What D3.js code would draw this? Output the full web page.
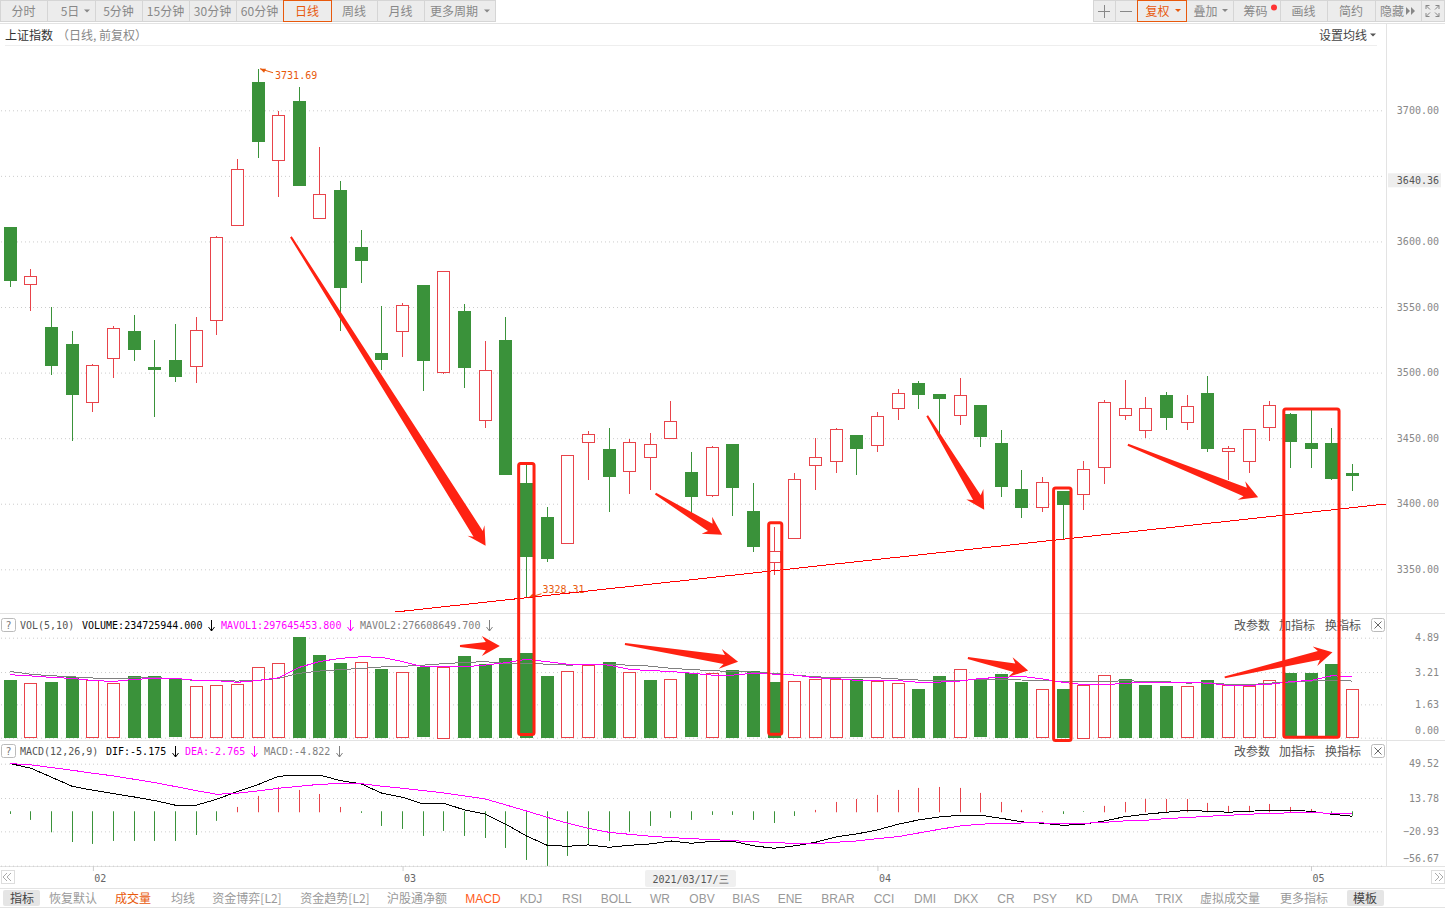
<!DOCTYPE html>
<html>
<head>
<meta charset="utf-8">
<title>上证指数</title>
<script src="https://cdn.jsdelivr.net/npm/d3@7"></script>
<style>
  html, body { margin: 0; padding: 0; background: #fff; overflow: hidden; }
  svg { display: block; }
  text { font-family: "Noto Sans CJK SC", sans-serif; font-size: 12px; }
  .mono { font-family: "DejaVu Sans Mono", "Liberation Mono", monospace; font-size: 10px; }
  .latin { font-family: "Liberation Sans", sans-serif; font-size: 12px; }
  .axis .domain { display: none; }
  .grid .tick line { stroke: #ccc; stroke-dasharray: 1,3; }
  .grid .tick text { fill: #888; font-family: "DejaVu Sans Mono", monospace; font-size: 10px; text-anchor: end; }
</style>
</head>
<body>
<svg id="chart" width="1445" height="909"></svg>
<script>
// candles
const opens = [3611.1,3567.1,3534.9,3521.9,3477.5,3511,3531.8,3504.4,3509.7,3504.9,3540,3612.3,3721.5,3661.9,3707,3617.7,3639.3,3595.8,3515.1,3531.6,3566.9,3500.3,3547.1,3463.8,3525,3416,3390.1,3370.1,3447,3441.9,3424.6,3435.6,3450.1,3424.4,3406.6,3445.7,3394.7,3355.6,3373.9,3429.5,3432.5,3452.6,3444.7,3472.9,3492.2,3483.8,3467.6,3475.4,3446.5,3411.4,3397.5,3409.9,3407.4,3428,3467.6,3456.2,3483,3462.2,3484.6,3440.2,3432.5,3458.4,3468.6,3446.5,3446.5,3423.6]
const closes = [3570.2,3573.5,3505.4,3483.3,3505.7,3533.9,3517.6,3502.1,3497,3532.3,3603.2,3655,3676,3696.2,3642.5,3636,3564.8,3585.4,3510,3551.4,3509.2,3577.3,3503.9,3501.9,3422.3,3359.9,3358.3,3437.1,3453.1,3420.8,3447,3445.5,3463,3405.6,3443.2,3412.4,3367.5,3364,3418.8,3435.6,3456.9,3442.1,3466.8,3484.3,3483.3,3480.2,3482.8,3451.3,3413.2,3397.2,3416.5,3399.5,3426.4,3477.5,3472.9,3472.9,3465.8,3474.4,3442.1,3442.4,3456.9,3475.2,3447.5,3442.1,3419.3,3421.6]
const highs = [3611.1,3579.1,3550.1,3531.8,3506.7,3535.6,3544,3525,3537.2,3542.5,3604.2,3662.9,3731.69,3699.5,3717.7,3672,3646.1,3608.8,3550.9,3553.1,3566.9,3577.3,3552.4,3524.2,3542.5,3429.7,3397.7,3437.1,3455.1,3457.9,3449.5,3453.9,3478.5,3439.6,3444.2,3445.7,3416,3382.5,3423.6,3450.3,3457.9,3452.6,3470.1,3487.6,3493.7,3483.8,3496,3475.4,3456.4,3425.9,3420.6,3409.9,3432.8,3479.2,3494.5,3481.5,3485.3,3483,3497.5,3444.2,3456.9,3478.5,3469.3,3471.6,3457.9,3430.5]
const lows = [3565.6,3547.3,3497.8,3447.5,3470.3,3496.2,3509.2,3466.5,3493.2,3492.4,3529,3612.3,3663.9,3634.2,3642.5,3617.7,3532,3568.6,3501.6,3512.2,3485.6,3499.3,3487.9,3457.4,3421.6,3328.31,3355.3,3370.1,3417.8,3393.4,3407.1,3410.7,3450.1,3393.1,3404.8,3390.3,3362.9,3345.4,3373.9,3410.1,3423.8,3421.6,3439.1,3463.5,3472.6,3452.6,3459.7,3442.9,3404.8,3388.8,3393.4,3372.6,3394.9,3414.7,3464.2,3450.5,3456.6,3456.6,3439.1,3417.8,3423.8,3448.2,3427.4,3427.4,3417.8,3409.4]

// volume in 1e8, 1 = up day (red), 0 = down day (green)
const volumes = [2.82,2.66,2.72,2.98,2.80,2.66,3.02,3.02,2.90,2.51,2.56,2.61,3.44,3.63,4.92,4.04,3.65,3.68,3.36,3.19,3.44,3.47,3.99,3.60,3.90,4.14,3.02,3.24,3.54,3.72,3.19,2.82,2.85,3.15,3.15,3.31,3.24,2.72,2.75,2.85,2.85,2.85,2.75,2.66,2.38,3.02,3.34,2.85,3.11,2.72,2.36,2.38,2.59,3.05,2.87,2.58,2.53,2.51,2.82,2.56,2.51,2.80,3.16,3.16,3.60,2.36]
const volumeUp = [0,1,0,0,1,1,0,0,0,1,1,1,1,1,0,0,0,1,0,1,0,1,0,0,0,0,0,1,1,0,1,0,1,0,1,0,0,0,1,1,1,0,1,1,0,0,1,0,0,0,1,0,1,1,0,0,0,1,0,1,1,1,0,0,0,1]
const mavol1 = [3.08,3.02,2.95,2.90,2.80,2.75,2.85,2.90,2.90,2.80,2.79,2.71,2.80,2.93,3.44,3.73,3.88,3.96,3.93,3.72,3.47,3.46,3.47,3.55,3.67,3.83,3.72,3.59,3.59,3.55,3.34,3.28,3.24,3.15,3.06,3.06,3.15,3.11,3.06,2.93,2.89,2.80,2.80,2.79,2.71,2.72,2.77,2.90,2.95,3.00,2.87,2.71,2.59,2.59,2.66,2.71,2.71,2.69,2.67,2.56,2.56,2.61,2.74,2.80,3.03,2.98]
const mavol2 = [3.24,3.10,3.03,2.98,2.92,2.89,2.93,2.93,2.90,2.79,2.79,2.77,2.80,2.90,3.15,3.26,3.33,3.39,3.46,3.49,3.55,3.62,3.68,3.72,3.63,3.62,3.60,3.55,3.57,3.57,3.55,3.50,3.39,3.33,3.28,3.23,3.21,3.15,3.06,2.98,2.93,2.93,2.93,2.87,2.82,2.79,2.79,2.87,2.87,2.82,2.80,2.75,2.75,2.74,2.79,2.75,2.74,2.67,2.69,2.61,2.59,2.67,2.71,2.77,2.82,2.77]

// MACD pane
const dif = [49.6,44.8,35.4,26,21.9,18.4,14.9,11.1,6.3,6.3,12.5,20.5,27.8,36.5,37.5,37.5,31.9,28.5,18.8,14.6,7.6,8.3,1.4,-2.8,-13.5,-25.7,-35.4,-36.5,-35,-37.5,-35.4,-34,-30.9,-33.3,-31.3,-31.3,-36,-38.5,-36,-32.3,-26.7,-23.6,-19.4,-13.5,-9,-5.9,-4.2,-4.2,-7.3,-11,-12.5,-14.6,-13.5,-10,-5.6,-3.1,-1,1,0,-1,0,1,1,0,-3.1,-5.18]
const dea = [49.6,48.3,45.5,42.7,39.6,36.8,33.3,29.9,25.7,21.5,17.7,18.8,21.2,24,26,28.1,28.8,28.8,26,24,21.5,19.1,16,12.8,6.6,0.3,-6.3,-12.5,-17.7,-21.9,-24,-26,-27.4,-28.5,-29.5,-30.6,-31.9,-32.3,-33.7,-33.7,-32.3,-30.9,-28.5,-26.4,-22.6,-18.8,-15.3,-13.5,-12.5,-12.2,-12.2,-12.5,-12.5,-11.5,-10,-9.4,-7.6,-6.6,-5.2,-4.2,-3.1,-2.1,-1.7,-1.4,-2.1,-2.77]
const macd = [-2.8,-9,-21.9,-32,-34,-30.9,-30.9,-30.9,-30.9,-24.7,-10,4.5,16,25.3,22.2,18,4.5,-1.7,-15.3,-18.4,-25.7,-20.5,-25.7,-27.8,-38.2,-50.7,-56.9,-46.5,-35,-30.9,-21.5,-15.3,-6.9,-9,-3.8,-3.8,-9,-12.2,-4.9,1.4,9.7,12.8,17,22.2,24.3,25.3,24.3,19.1,9.7,1.4,0,-2.8,-0.7,5.6,9.7,12.8,12.8,12.8,8.7,5.6,5.6,7.6,4.5,2.4,-1.7,-4.82]

// axis ticks
const priceTicks = [3700,3650,3600,3550,3500,3450,3400,3350]
const volumeTicks = [4.89,3.21,1.63,0]
const macdTicks = [49.52,13.78,-20.93,-56.67]
const monthIndex = [4,19,42,63]
const monthLabels = ["02","03","04","05"]

// toolbar and tabs
const leftTabs = [["分时",0,47],["5日",47,95],["5分钟",95,142],["15分钟",142,189],["30分钟",189,236],["60分钟",236,283],["日线",283,331],["周线",331,377],["月线",377,424],["更多周期",424,495]]
const rightTabs = [["",1093,1115],["",1115,1137],["复权",1137,1186],["叠加",1186,1233],["筹码",1233,1280],["画线",1280,1327],["简约",1327,1375],["隐藏",1375,1421],["",1421,1444]]
const bottomTabs = [["恢复默认",73],["成交量",133],["均线",183],["资金博弈[L2]",247],["资金趋势[L2]",335],["沪股通净额",417],["MACD",483],["KDJ",531],["RSI",572],["BOLL",616],["WR",660],["OBV",702],["BIAS",746],["ENE",790],["BRAR",838],["CCI",884],["DMI",925],["DKX",966],["CR",1006],["PSY",1045],["KD",1084],["DMA",1125],["TRIX",1169],["虚拟成交量",1230],["更多指标",1304]]

// hand drawn marks on the screenshot, in [bar index, value]
const trendLine = [[18.63,3317.4],[66.62,3399.8]]
const priceArrows = [
  [[13.59,3603.5],[23.02,3368]],
  [[31.25,3407.7],[34.48,3376.4]],
  [[44.41,3467.1],[47.17,3395.5]],
  [[54.13,3445],[60.44,3405]]
]
const volumeArrows = [
  [[21.78,4.48],[23.71,4.48]],
  [[29.77,4.58],[35.25,3.72]],
  [[46.38,3.90],[49.3,3.28]],
  [[58.82,2.95],[64.04,4.18]]
]
const boxes = [
  [24.55,25.44,3431.8,0.08],
  [36.66,37.44,3386.6,0.10],
  [50.46,51.45,3413.2,-0.21],
  [61.61,64.43,3473.4,-0.05]
]

const GREEN = "#3a923a", RED = "#e8434a", ORANGE = "#e8590c", ARROW = "#ff2212"
const MID = "0.4em"
const bars = d3.range(closes.length)

const svg = d3.select("#chart")
const x = d3.scaleLinear().domain([0, 65]).range([10.3, 1352.3])
const yPrice = d3.scaleLinear().domain([3350, 3700]).range([569.3, 110.3])
const yVol = d3.scaleLinear().domain([0, 4.89]).range([737.7, 637.7])
const yMacd = d3.scaleLinear().domain([-56.67, 49.52]).range([865.7, 763.7])
const px = i => Math.floor(x(i)) + 0.5

// --- frame ---
const frame = svg.append("g").attr("stroke", "#e3e3e3")
;[23, 613, 740, 866, 888, 907].forEach(y => {
  frame.append("line").attr("x1", 0).attr("x2", 1445).attr("y1", y + 0.5).attr("y2", y + 0.5)
})
frame.append("line").attr("x1", 5).attr("x2", 1377).attr("y1", 45.5).attr("y2", 45.5).attr("stroke", "#eee")
frame.append("line").attr("x1", 1386.5).attr("x2", 1386.5).attr("y1", 23).attr("y2", 866)

function grid(scale, ticks, fmt) {
  const g = svg.append("g").attr("class", "axis grid").attr("transform", "translate(1382,0)")
    .call(d3.axisRight(scale).tickValues(ticks).tickFormat(fmt).tickSize(-1381))
  g.selectAll(".tick text").attr("x", 57)
  return g
}
// 3650 is hidden behind the current price label in the reference
grid(yPrice, priceTicks, d => d === 3650 ? "" : d3.format(".2f")(d))
grid(yVol, volumeTicks, d3.format(".2f"))
  .selectAll(".tick").filter(d => d === 0).select("text").attr("dy", "-0.4em")
grid(yMacd, macdTicks, d3.format(".2f"))
  .selectAll(".tick").filter(d => d === -56.67).select("text").attr("dy", "-0.4em")

// last price label
svg.append("rect").attr("x", 1388).attr("y", yPrice(3647) - 6.5).attr("width", 53).attr("height", 14).attr("fill", "#eee")
svg.append("text").attr("class", "mono").attr("x", 1439).attr("y", yPrice(3647)).attr("dy", "0.45em")
  .attr("text-anchor", "end").attr("fill", "#555").text("3640.36")

// --- candles ---
const candle = svg.append("g").selectAll("g").data(bars).join("g")
  .attr("stroke", i => closes[i] >= opens[i] ? RED : GREEN)
candle.append("line")
  .attr("x1", px).attr("x2", px)
  .attr("y1", i => Math.round(yPrice(highs[i])))
  .attr("y2", i => Math.round(yPrice(lows[i])))
candle.append("rect")
  .attr("shape-rendering", "crispEdges")
  .attr("x", i => closes[i] >= opens[i] ? px(i) - 6 : px(i) - 6.5)
  .attr("width", i => closes[i] >= opens[i] ? 12 : 13)
  .attr("y", i => Math.round(yPrice(Math.max(opens[i], closes[i]))) + (closes[i] >= opens[i] ? 0.5 : 0))
  .attr("height", i => Math.max(2, Math.round(Math.abs(yPrice(opens[i]) - yPrice(closes[i])))))
  .attr("fill", i => closes[i] >= opens[i] ? "#fff" : GREEN)
  .attr("stroke", i => closes[i] >= opens[i] ? RED : "none")

// high / low flags
const hiX = x(12), hiY = yPrice(3731.69)
svg.append("path").attr("fill", "none").attr("stroke", ORANGE)
  .attr("d", `M${hiX + 2},${hiY} l13,4`)
svg.append("path").attr("fill", ORANGE).attr("d", `M${hiX + 2},${hiY} l6,0 l-2,4 z`)
svg.append("text").attr("class", "mono").attr("x", hiX + 17).attr("y", hiY + 6).attr("dy", "0.45em")
  .attr("fill", ORANGE).text("3731.69")
const loX = x(25), loY = yPrice(3328.31)
svg.append("path").attr("fill", "none").attr("stroke", ORANGE).attr("d", `M${loX + 2},${loY} l13,-4`)
svg.append("path").attr("fill", ORANGE).attr("d", `M${loX + 2},${loY} l6,0 l-2,-4 z`)
svg.append("text").attr("class", "mono").attr("x", loX + 16).attr("y", loY - 8).attr("dy", "0.35em")
  .attr("fill", ORANGE).text("3328.31")

// --- volume ---
svg.append("g").selectAll("rect").data(bars).join("rect")
  .attr("shape-rendering", "crispEdges")
  .attr("x", i => volumeUp[i] ? px(i) - 6 : px(i) - 6.5)
  .attr("width", i => volumeUp[i] ? 12 : 13)
  .attr("y", i => Math.round(yVol(volumes[i])) + (volumeUp[i] ? 0.5 : 0))
  .attr("height", i => Math.round(yVol(0) - yVol(volumes[i])))
  .attr("fill", i => volumeUp[i] ? "#fff" : GREEN)
  .attr("stroke", i => volumeUp[i] ? RED : "none")

function seriesLine(values, scale, color) {
  svg.append("path").datum(bars)
    .attr("fill", "none").attr("stroke", color).attr("shape-rendering", "crispEdges")
    .attr("d", d3.line().x(i => x(i)).y(i => scale(values[i])))
}
seriesLine(mavol2, yVol, "#808080")
seriesLine(mavol1, yVol, "#ff00ff")

// --- macd ---
svg.append("g").selectAll("line").data(bars).join("line")
  .attr("x1", px).attr("x2", px)
  .attr("y1", i => yMacd(0) + (macd[i] >= 0 ? 1 : 0))
  .attr("y2", i => yMacd(macd[i]))
  .attr("stroke", i => macd[i] >= 0 ? RED : GREEN)
seriesLine(dif, yMacd, "#000")
seriesLine(dea, yMacd, "#ff00ff")

// --- month axis ---
const monthAxis = svg.append("g").attr("class", "axis").attr("transform", "translate(0,866)")
  .call(d3.axisBottom(x).tickValues(monthIndex).tickSize(5)
    .tickFormat((d, i) => monthLabels[i]))
monthAxis.selectAll(".tick line").attr("stroke", "#ccc")
monthAxis.selectAll(".tick text").attr("class", "mono").attr("x", 7).attr("y", 8.5).attr("dy", "0.71em").attr("fill", "#666")
  .style("font-size", "10px")

svg.append("rect").attr("x", 645).attr("y", 870).attr("width", 91).attr("height", 17).attr("rx", 2).attr("fill", "#f0f0f0")
svg.append("text").attr("class", "mono").attr("x", 690.5).attr("y", 879).attr("dy", MID).attr("text-anchor", "middle")
  .attr("fill", "#555").text("2021/03/17/三")

// --- scroll buttons ---
;[[1, 1], [1431, -1]].forEach(([left, dir]) => {
  svg.append("rect").attr("x", left + 0.5).attr("y", 870.5).attr("width", 13).attr("height", 13).attr("fill", "#fff").attr("stroke", "#ddd")
  const cx = left + 7
  svg.append("path").attr("fill", "none").attr("stroke", "#aaa")
    .attr("d", `M${cx - dir},873 l${-4 * dir},4 l${4 * dir},4 M${cx + 3 * dir},873 l${-4 * dir},4 l${4 * dir},4`)
})

// --- top toolbar ---
function toolbar(items) {
  const g = svg.append("g").selectAll("g").data(items).join("g")
  g.append("rect").attr("x", d => d[1] + 0.5).attr("y", 0.5).attr("width", d => d[2] - d[1]).attr("height", 21)
    .attr("fill", "#ececec").attr("stroke", "#d5d5d5")
  return g
}
const caret = (cx, cy, color) => svg.append("path").attr("fill", color)
  .attr("d", `M${cx - 3},${cy - 1.5} h6 l-3,3 z`)

toolbar(leftTabs).append("text").attr("y", 11).attr("dy", MID).attr("text-anchor", "middle")
  .attr("x", d => d[0] === "5日" ? (d[1] + d[2]) / 2 - 1 : d[0] === "更多周期" ? (d[1] + d[2]) / 2 - 5.5 : (d[1] + d[2]) / 2)
  .attr("fill", d => d[0] === "日线" ? ORANGE : "#888").text(d => d[0])
toolbar(rightTabs).append("text").attr("y", 11).attr("dy", MID).attr("text-anchor", "middle")
  .attr("x", d => d[0] === "隐藏" ? d[1] + 17 : d[0] === "复权" || d[0] === "叠加" ? (d[1] + d[2]) / 2 - 4 : d[0] === "筹码" ? (d[1] + d[2]) / 2 - 1 : (d[1] + d[2]) / 2)
  .attr("fill", d => d[0] === "复权" ? ORANGE : "#888").text(d => d[0])

// active tabs get an orange frame
;[[283, 331], [1137, 1186]].forEach(([a, b]) => {
  svg.append("rect").attr("x", a + 0.5).attr("y", 0.5).attr("width", b - a).attr("height", 21)
    .attr("fill", "none").attr("stroke", ORANGE)
})
caret(87, 11, "#888"); caret(487, 11, "#888")
caret(1178, 10.5, ORANGE); caret(1225, 10.5, "#888")
svg.append("circle").attr("cx", 1274).attr("cy", 7.5).attr("r", 3).attr("fill", "#f33")
svg.append("path").attr("stroke", "#888").attr("fill", "none")
  .attr("d", "M1098,11.5 h12 M1104.5,5 v13 M1120,11.5 h12")
svg.append("path").attr("fill", "#888").attr("d", "M1406,7 l4,4 l-4,4 z M1411,7 l4,4 l-4,4 z")
svg.append("path").attr("stroke", "#888").attr("fill", "none")
  .attr("d", "M1426,9 v-3.5 h3.5 M1426,5.5 l4,4 M1439,9 v-3.5 h-3.5 M1439,5.5 l-4,4 M1426,13 v3.5 h3.5 M1426,16.5 l4,-4 M1439,13 v3.5 h-3.5 M1439,16.5 l-4,-4")

// --- title row ---
svg.append("text").attr("x", 5).attr("y", 35).attr("dy", MID).attr("fill", "#333").text("上证指数")
svg.append("text").attr("x", 57).attr("y", 35).attr("dy", MID).attr("fill", "#888").text("（日线, 前复权）")
svg.append("text").attr("x", 1319).attr("y", 35).attr("dy", MID).attr("fill", "#444").text("设置均线")
caret(1373, 35, "#555")

// --- pane headers ---
function paneHeader(y, parts) {
  svg.append("rect").attr("x", 1.5).attr("y", y - 6.5).attr("width", 14).attr("height", 13).attr("rx", 2).attr("fill", "#fff").attr("stroke", "#bbb")
  svg.append("text").attr("class", "mono").attr("x", 8.5).attr("y", y).attr("dy", "0.35em").attr("text-anchor", "middle").attr("fill", "#777").text("?")
  parts.forEach(([label, left, color]) => {
    svg.append("text").attr("class", "mono").attr("x", left).attr("y", y).attr("dy", "0.35em").attr("fill", color).text(label)
    if (label !== parts[0][0]) {
      const ax = left + label.length * 6 + 9
      svg.append("path").attr("fill", "none").attr("stroke", color)
        .attr("d", `M${ax + 0.5},${y - 5} v11 M${ax - 2.5},${y + 2} l3,4 l3,-4`)
    }
  })
  ;[["改参数", 1252], ["加指标", 1297], ["换指标", 1343]].forEach(([t, c]) => {
    svg.append("text").attr("x", c).attr("y", y).attr("dy", MID).attr("text-anchor", "middle").attr("fill", "#555").text(t)
  })
  svg.append("rect").attr("x", 1371.5).attr("y", y - 6.5).attr("width", 13).attr("height", 13).attr("rx", 2).attr("fill", "#fff").attr("stroke", "#bbb")
  svg.append("path").attr("stroke", "#666").attr("fill", "none").attr("d", `M1374.5,${y - 3.5} l7,7 M1381.5,${y - 3.5} l-7,7`)
}
paneHeader(625, [["VOL(5,10)", 20, "#555"], ["VOLUME:234725944.000", 82, "#000"], ["MAVOL1:297645453.800", 221, "#ff00ff"], ["MAVOL2:276608649.700", 360, "#808080"]])
paneHeader(751, [["MACD(12,26,9)", 20, "#555"], ["DIF:-5.175", 106, "#000"], ["DEA:-2.765", 185, "#ff00ff"], ["MACD:-4.822", 264, "#808080"]])

// --- bottom tabs ---
svg.append("rect").attr("x", 3).attr("y", 890).attr("width", 37).attr("height", 16).attr("rx", 2).attr("fill", "#e5e5e5")
svg.append("rect").attr("x", 1347).attr("y", 890).attr("width", 37).attr("height", 16).attr("rx", 2).attr("fill", "#e5e5e5")
svg.append("text").attr("x", 22).attr("y", 898).attr("dy", MID).attr("text-anchor", "middle").attr("fill", "#444").text("指标")
svg.append("text").attr("x", 1365).attr("y", 898).attr("dy", MID).attr("text-anchor", "middle").attr("fill", "#444").text("模板")
svg.append("g").selectAll("text").data(bottomTabs).join("text")
  .attr("class", d => /^[A-Z]+$/.test(d[0]) ? "latin" : null)
  .attr("x", d => d[1]).attr("y", 898).attr("dy", MID).attr("text-anchor", "middle")
  .attr("fill", d => d[0] === "成交量" ? ORANGE : d[0] === "MACD" ? "#ff5a1a" : "#999")
  .text(d => d[0])

// --- annotations on top ---
svg.append("line")
  .attr("x1", x(trendLine[0][0])).attr("y1", yPrice(trendLine[0][1]))
  .attr("x2", x(trendLine[1][0])).attr("y2", yPrice(trendLine[1][1]))
  .attr("stroke", "#f00").attr("shape-rendering", "crispEdges")

// tapered arrow, thin at the tail, like the drawing tool makes them
function arrowPath(x0, y0, x1, y1) {
  const len = Math.hypot(x1 - x0, y1 - y0)
  const ux = (x1 - x0) / len, uy = (y1 - y0) / len
  const nx = -uy, ny = ux
  const headLen = 18, barb = 10, neck = 4 + len * 0.004, tail = 1
  const bx = x1 - ux * headLen, by = y1 - uy * headLen
  const nbx = x1 - ux * (headLen - 4), nby = y1 - uy * (headLen - 4)
  return `M${x0 + nx * tail},${y0 + ny * tail}` +
    `L${nbx + nx * neck},${nby + ny * neck}` +
    `L${bx + nx * barb},${by + ny * barb}` +
    `L${x1},${y1}` +
    `L${bx - nx * barb},${by - ny * barb}` +
    `L${nbx - nx * neck},${nby - ny * neck}` +
    `L${x0 - nx * tail},${y0 - ny * tail}Z`
}
svg.append("g").selectAll("path").data(priceArrows).join("path")
  .attr("fill", ARROW)
  .attr("d", d => arrowPath(x(d[0][0]), yPrice(d[0][1]), x(d[1][0]), yPrice(d[1][1])))
svg.append("g").selectAll("path").data(volumeArrows).join("path")
  .attr("fill", ARROW)
  .attr("d", d => arrowPath(x(d[0][0]), yVol(d[0][1]), x(d[1][0]), yVol(d[1][1])))

svg.append("g").selectAll("rect").data(boxes).join("rect")
  .attr("x", d => x(d[0]) + 1.5)
  .attr("width", d => x(d[1]) - x(d[0]) - 3)
  .attr("y", d => yPrice(d[2]) + 1.5)
  .attr("height", d => yVol(d[3]) - yPrice(d[2]) - 3)
  .attr("rx", 2)
  .attr("fill", "none").attr("stroke", ARROW).attr("stroke-width", 3)
</script>
</body>
</html>
